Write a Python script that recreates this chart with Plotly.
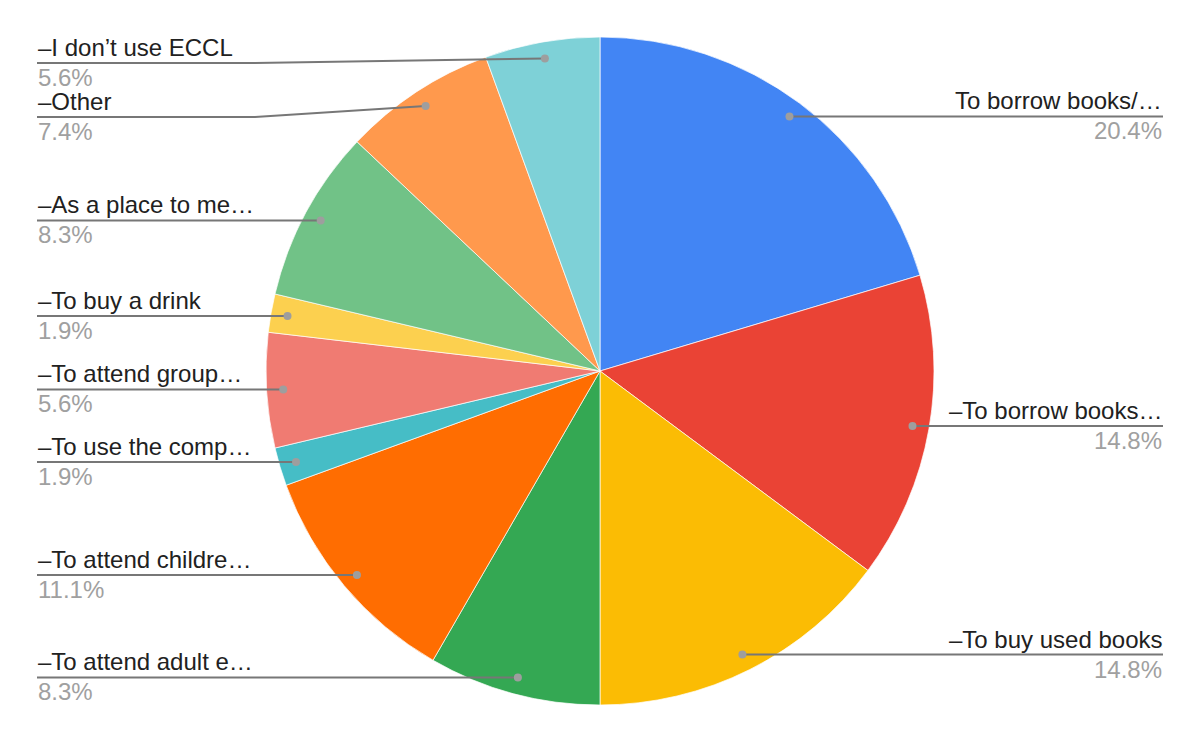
import math
import plotly.graph_objects as go

# ---- data ----
labels = [
    "To borrow books/…",
    "–To borrow books…",
    "–To buy used books",
    "–To attend adult e…",
    "–To attend childre…",
    "–To use the comp…",
    "–To attend group…",
    "–To buy a drink",
    "–As a place to me…",
    "–Other",
    "–I don’t use ECCL",
]
counts = [22, 16, 16, 9, 12, 2, 6, 2, 9, 8, 6]
colors = ["#4285F4", "#EA4335", "#FBBC04", "#34A853", "#FF6D01", "#46BDC6",
          "#F07B72", "#FCD04F", "#71C287", "#FF994D", "#7ED1D7"]

# ---- geometry / style (page body has an 8px margin) ----
OFF = 8
W, H = 1200 - 2 * OFF, 742 - 2 * OFF
CX, CY, R = 600 - OFF, 371 - OFF, 334
DOT_R = 0.95 * R
LEFT_X, RIGHT_X = 37 - OFF, 1163 - OFF
BEND_LEFT, BEND_RIGHT = 255 - OFF, 945 - OFF
GAP = 54
TOP_MIN = CY - R + 26
FONT = "Liberation Sans, Arial, sans-serif"
FS = 24

fig = go.Figure()
fig.add_trace(go.Pie(
    labels=labels, values=counts, sort=False, direction="clockwise", rotation=0,
    marker=dict(colors=colors, line=dict(color="white", width=0.7)),
    textinfo="none", hoverinfo="label+percent", showlegend=False,
    domain=dict(x=[(CX - R) / W, (CX + R) / W], y=[(H - CY - R) / H, (H - CY + R) / H]),
))

total = sum(counts)
cum = 0
items = []
for lab, c in zip(labels, counts):
    mid = (cum + c / 2) / total * 2 * math.pi
    cum += c
    dx = CX + DOT_R * math.sin(mid)
    dy = CY - DOT_R * math.cos(mid)
    side = "right" if math.sin(mid) >= 0 else "left"
    items.append(dict(label=lab, pct=f"{100 * c / total:.1f}%", dx=dx, dy=dy, side=side))

annotations = []
shapes = []
for side in ("left", "right"):
    group = sorted([it for it in items if it["side"] == side], key=lambda it: it["dy"])
    prev = TOP_MIN - GAP
    for it in group:
        ly = max(it["dy"], prev + GAP)
        prev = ly
        edge = LEFT_X if side == "left" else RIGHT_X
        bend = BEND_LEFT if side == "left" else BEND_RIGHT
        if abs(ly - it["dy"]) > 0.5:
            pts = [(edge, ly), (bend, ly), (it["dx"], it["dy"])]
        else:
            pts = [(edge, ly), (it["dx"], it["dy"])]
        path = "M " + " L ".join(f"{px:.2f},{py:.2f}" for px, py in pts)
        shapes.append(dict(type="path", path=path, xref="x", yref="y", layer="above",
                           line=dict(color="#777777", width=2)))
        rd = 4
        shapes.append(dict(type="circle", xref="x", yref="y", layer="above",
                           x0=it["dx"] - rd, x1=it["dx"] + rd, y0=it["dy"] - rd, y1=it["dy"] + rd,
                           fillcolor="#9E9E9E", line=dict(width=0)))
        xanchor = "left" if side == "left" else "right"
        annotations.append(dict(x=edge, y=ly, xref="x", yref="y", text=it["label"],
                                showarrow=False, xanchor=xanchor, yanchor="bottom", yshift=1,
                                borderpad=0,
                                font=dict(family=FONT, size=FS, color="#212121")))
        annotations.append(dict(x=edge, y=ly, xref="x", yref="y", text=it["pct"],
                                showarrow=False, xanchor=xanchor, yanchor="top", yshift=0,
                                borderpad=0,
                                font=dict(family=FONT, size=FS, color="#A0A0A0")))

fig.update_layout(
    width=W, height=H, margin=dict(l=0, r=0, t=0, b=0),
    paper_bgcolor="white", plot_bgcolor="rgba(0,0,0,0)",
    xaxis=dict(range=[0, W], visible=False, fixedrange=True),
    yaxis=dict(range=[H, 0], visible=False, fixedrange=True),
    annotations=annotations, shapes=shapes, showlegend=False,
)
fig.write_html("out.html")
